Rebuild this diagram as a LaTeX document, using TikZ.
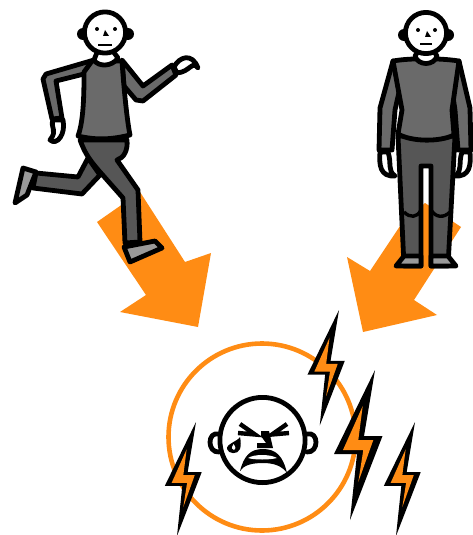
\documentclass[tikz,border=0pt]{standalone}
\usepackage{xcolor}
\usetikzlibrary{arrows.meta,positioning,calc}
\definecolor{warnorange}{HTML}{FF8C14}
\definecolor{shirtgray}{HTML}{6A6A6A}
\definecolor{pantsgray}{HTML}{565656}
\definecolor{shoegray}{HTML}{9A9A9A}
\begin{document}
\begin{tikzpicture}[
  x=1pt,y=-1pt,
  outline/.style={draw=black,line width=4.8pt,line join=round,line cap=round},
  shirt/.style={outline,fill=shirtgray},
  pants/.style={outline,fill=pantsgray},
  shoe/.style={outline,fill=shoegray},
  skin/.style={outline,fill=white},
  bigarrow/.style={fill=warnorange},
  bolt/.pic={
    \fill[black] (0,0)--(-41,84)--(-18,84)--(-25,150)--(7.5,66)--(-11,66)--cycle;
    \fill[warnorange] (-12.3,36)--(-32,80)--(-11.7,80)--(-16.7,112)--(-1.7,70)--(-16.7,70)--cycle;
  }
]
\useasboundingbox (0,0) rectangle (473,535);
\fill[bigarrow] (97,222)--(140,192)--(185,262)--(211,253)--(198,327)--(120,312)--(146,295)--cycle;
\fill[bigarrow] (425,203)--(461,227)--(414,300)--(437,315)--(363,332)--(347,257)--(370,271)--(402,223)--cycle;
% running man
\draw[skin] (174,67) .. controls (179,57) and (192,52) .. (198,68) .. controls (192,60) and (190,72) .. (177,73)--cycle;
\draw[skin] (53,120) .. controls (50,128) and (58,130) .. (50,140) .. controls (57,146) and (66,134) .. (63,120)--cycle;
\draw[shoe] (23,168)--(36,172)--(27,195)--(15,203)--cycle;
\draw[pants] (88,158)--(78,177)--(36,173)--(33,188)--(82,194)--(100,175)--cycle;
\draw[pants] (80,140) .. controls (84,150) and (86,156) .. (100,172)--(123,198)--(125,243)--(140,242)--(138,190)--(117,160) .. controls (124,158) and (128,150) .. (127,140)--cycle;
\draw[shoe] (124,247)--(155,241)--(162,248)--(130,262)--cycle;
\draw[shirt] (122,60)--(143,86)--(172,65)--(176,75)--(143,101)--(136,100)--(124,86)--cycle;
\draw[shirt] (94,60)--(46,74)--(43,79)--(52,119)--(62,118)--(56,81)--(84,74)--cycle;
\draw[shirt] (92,61)--(122,61) .. controls (124,90) and (127,120) .. (130,135) .. controls (110,140) and (95,140) .. (78,136) .. controls (84,120) and (84,90) .. (84,72)--cycle;
\draw[skin] (94,60) .. controls (98,67) and (112,67) .. (118,58)--(112,50)--(98,50)--cycle;
\fill (83,34) circle (6);
\fill (128,34) circle (6);
\draw[skin] (105,32.5) circle (20.6);
\fill (97,29) circle (2);
\fill (115,29) circle (2);
\fill (105,30)--(109,36)--(103,36)--cycle;
\draw[line width=1.6pt] (98,45)--(112,45);
% standing man
\draw[skin] (380,152) .. controls (379,165) and (380,177) .. (395,176) .. controls (387,170) and (392,164) .. (388,152)--cycle;
\draw[skin] (470,152) .. controls (471,165) and (470,177) .. (455,176) .. controls (463,170) and (458,164) .. (462,152)--cycle;
\draw[pants] (398,136)--(404,266)--(421,266)--(421,166)--(431,166)--(431,266)--(448,266)--(455,136)--cycle;
\draw[black,line width=3.4pt] (404,212) .. controls (410,218) and (417,218) .. (421,210);
\draw[black,line width=3.4pt] (431,210) .. controls (436,218) and (444,218) .. (450,212);
\draw[shoe] (396,266)--(404,256)--(421,256)--(421,266)--cycle;
\draw[shoe] (431,266)--(431,256)--(448,256)--(456,266)--cycle;
\draw[shirt] (393,61)--(380,108)--(379,150)--(392,150)--(395,110)--(404,70)--cycle;
\draw[shirt] (459,61)--(470,108)--(471,150)--(458,150)--(455,110)--(449,70)--cycle;
\draw[shirt] (393,61) .. controls (410,58) and (440,58) .. (459,61)--(452,110)--(454,135) .. controls (440,142) and (412,142) .. (398,134)--(402,110)--cycle;
\draw[skin] (415,56) .. controls (418,66) and (434,66) .. (437,56)--(433,50)--(419,50)--cycle;
\fill (404,35) circle (6);
\fill (448,35) circle (6);
\draw[skin] (426,33) circle (20.6);
\fill (418,30) circle (2);
\fill (435,30) circle (2);
\fill (427,31)--(431,37)--(425,37)--cycle;
\draw[line width=1.6pt] (420,44)--(432,44);
% face in the ring
\draw[warnorange,line width=4.6pt] (262,437) circle (93.5);
\draw[skin] (219,434) .. controls (207,431) and (207,453) .. (219,452);
\draw[skin] (307,434) .. controls (319,431) and (319,453) .. (307,452);
\draw[skin] (262.5,440) circle (42.6);
\draw[line width=4.4pt,line join=miter] (240,424)--(255,434.5)--(238,433);
\draw[line width=4.4pt,line join=miter] (287,424)--(272,434.5)--(289,433);
\fill (261,431)--(269,431)--(273,448)--(257,448)--(257,443)--(266,443)--(261,436)--cycle;
\fill (240,437) .. controls (238,441) and (226,444) .. (227,449) .. controls (228,454) and (238,455) .. (240,449) .. controls (241,446) and (241,441) .. (240,437)--cycle;
\fill[white] (233.5,444) .. controls (231,448) and (232,450) .. (234,450) .. controls (236,450) and (236,447) .. (233.5,444)--cycle;
\fill (240,471) .. controls (244,456) and (250,449) .. (263,449) .. controls (276,449) and (283,456) .. (287,473) .. controls (282,466) and (274,463) .. (263,463) .. controls (252,463) and (244,465) .. (240,471)--cycle;
\fill[white] (248,458) .. controls (254,454) and (270,454) .. (277,458) .. controls (270,460) and (254,460) .. (248,458)--cycle;
\pic[scale=.77] at (339,310) {bolt};
\pic at (375,370) {bolt};
\pic[scale=.76] at (415,422) {bolt};
\pic[scale=.76] at (196,422) {bolt};
\end{tikzpicture}
\end{document}
